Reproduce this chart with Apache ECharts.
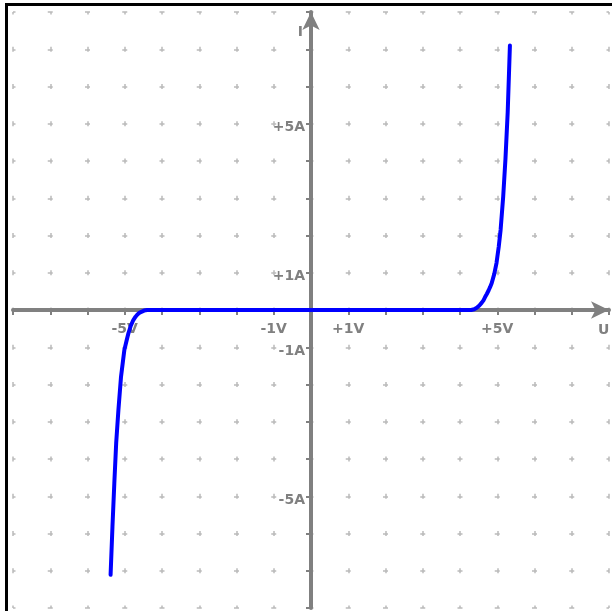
<!DOCTYPE html>
<html>
<head>
<meta charset="utf-8">
<script src="https://cdn.jsdelivr.net/npm/echarts@6/dist/echarts.min.js"></script>
<style>
  html, body { margin: 0; padding: 0; background: #fff; }
  #chart { position: absolute; left: 0; top: 0; width: 612px; height: 611px; }
  #frame { position: absolute; left: 5px; top: 3px; right: 0; bottom: 0;
           border-left: 3px solid #000; border-top: 3px solid #000; pointer-events: none; }
</style>
</head>
<body>
<div id="chart"></div>
<div id="frame"></div>
<script>
// Voltage (V) and current (A) samples
const uValues = [-5.38, -5.33, -5.28, -5.23, -5.17, -5.10, -5.01, -4.95, -4.90, -4.84, -4.77, -4.71, -4.66, -4.60, -4.55, -4.48, -4.40, 0, 4.30, 4.38, 4.45, 4.52, 4.58, 4.63, 4.67, 4.72, 4.77, 4.81, 4.85, 4.92, 4.98, 5.04, 5.09, 5.16, 5.22, 5.28, 5.34];
const iValues = [-7.11, -5.82, -4.65, -3.57, -2.68, -1.79, -1.07, -0.82, -0.62, -0.43, -0.27, -0.18, -0.12, -0.07, -0.04, -0.015, 0, 0, 0, 0.02, 0.06, 0.12, 0.19, 0.26, 0.34, 0.43, 0.53, 0.62, 0.72, 0.97, 1.26, 1.70, 2.15, 3.05, 4.05, 5.30, 7.10];

// Tick labels
const xLabelValues = [-5, -1, 1, 5];
const xLabelTexts = ['-5V', '-1V', '+1V', '+5V'];
const yLabelValues = [-5, -1, 1, 5];
const yLabelTexts = ['-5A', '-1A', '+1A', '+5A'];
const xName = 'U';
const yName = 'I';

const gray = '#808080';
const dotColor = '#bbbbbb';

function lookup(values, texts) {
  return function (v) {
    const k = values.findIndex(function (x) { return Math.abs(x - v) < 1e-9; });
    return k >= 0 ? texts[k] : '';
  };
}

const chart = echarts.init(document.getElementById('chart'), null, { renderer: 'canvas' });
const splitStyle = { color: dotColor, width: 1.5, type: [5, 32.25], dashOffset: 2.5 };
const GRID = { left: 13, right: 3, top: 12, bottom: 3 };
const halfW = (612 - GRID.left - GRID.right) / 2;
const halfH = (611 - GRID.top - GRID.bottom) / 2;
const font = { color: gray, fontSize: 14, fontFamily: 'DejaVu Sans', fontWeight: 'bold' };

chart.setOption({
  animation: false,
  backgroundColor: '#fff',
  grid: { left: GRID.left, right: GRID.right, top: GRID.top, bottom: GRID.bottom, containLabel: false, outerBoundsMode: 'none' },
  xAxis: {
    type: 'value', min: -8, max: 8, interval: 1,
    position: 'bottom', offset: -halfH,
    name: xName, nameLocation: 'end', nameGap: -11,
    nameTextStyle: Object.assign({}, font, { align: 'left', verticalAlign: 'top', padding: [13, 0, 0, 0] }),
    axisLine: { onZero: false, symbol: ['none', 'arrow'], symbolSize: [13, 18], lineStyle: { color: gray, width: 4 } },
    axisTick: { show: true, length: 5, lineStyle: { color: gray, width: 2 } },
    axisLabel: Object.assign({}, font, { formatter: lookup(xLabelValues, xLabelTexts), margin: 12, showMinLabel: true, showMaxLabel: true }),
    splitLine: { show: true, lineStyle: splitStyle }
  },
  yAxis: {
    type: 'value', min: -8, max: 8, interval: 1,
    position: 'left', offset: -halfW,
    name: yName, nameLocation: 'end', nameGap: -20,
    nameTextStyle: Object.assign({}, font, { align: 'right', verticalAlign: 'middle', padding: [0, 8, 0, 0] }),
    axisLine: { onZero: false, symbol: ['none', 'arrow'], symbolSize: [13, 18], lineStyle: { color: gray, width: 4 } },
    axisTick: { show: true, length: 5, lineStyle: { color: gray, width: 2 } },
    axisLabel: Object.assign({}, font, { formatter: lookup(yLabelValues, yLabelTexts), margin: 6, verticalAlign: 'top', lineHeight: 8 }),
    splitLine: { show: true, lineStyle: splitStyle }
  },
  series: [{
    type: 'line',
    data: uValues.map(function (u, k) { return [u, iValues[k]]; }),
    showSymbol: false,
    smooth: false,
    lineStyle: { color: '#0000ff', width: 4, join: 'round', cap: 'round' },
    z: 3
  }]
});
</script>
</body>
</html>
